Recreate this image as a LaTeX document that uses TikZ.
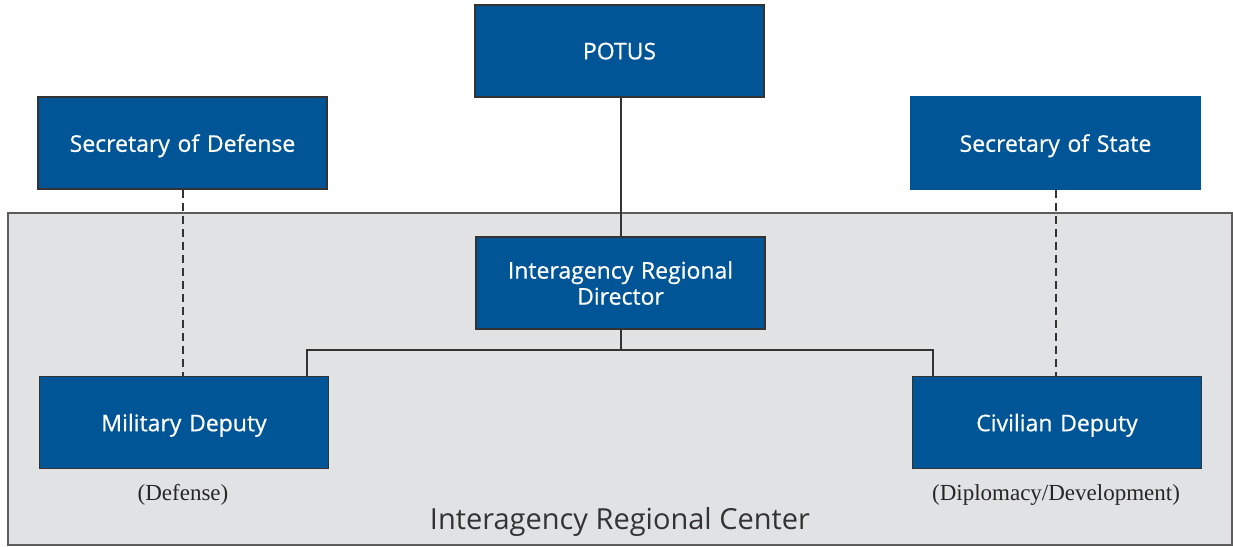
\documentclass[tikz,border=0pt]{standalone}
\usepackage{fontspec}
\setmainfont{Liberation Serif}
\newfontfamily\boxfont[FakeBold=0.6]{Open Sans}
\newfontfamily\centerfont{Open Sans}
\definecolor{navy}{HTML}{005596}
\definecolor{panel}{HTML}{E1E2E4}
\definecolor{edge}{HTML}{333333}
\begin{document}
\begin{tikzpicture}[x=1pt,y=-1pt,
  box/.style={draw=edge, line width=1.2pt, fill=navy, text=white, font=\boxfont\fontsize{23}{27}\selectfont,
    minimum width=289pt, minimum height=92pt, inner sep=0pt, align=center, text width=280pt},
  onebox/.style={box, text depth=0pt},
  solidlink/.style={draw=edge, line width=1.3pt},
  dashlink/.style={draw=edge, line width=1.3pt, dash pattern=on 8pt off 5pt},
  note/.style={font=\fontsize{23}{26}\selectfont, text=black!85}]
\useasboundingbox (0,0) rectangle (1233,546);
\draw[fill=panel, draw=edge!80, line width=1.3pt] (8,213) rectangle (1232,545);
\node[onebox] (potus) at (619.5,51) {POTUS};
\node[onebox] (secdef) at (182.5,143) {Secretary of Defense};
\node[onebox, draw=navy] (secstate) at (1055.5,143) {Secretary of State};
\node[box] (ird) at (620.5,283) {Interagency Regional\\[-1pt]Director};
\node[onebox] (mil) at (184,422.5) {Military Deputy};
\node[onebox] (civ) at (1057,422.5) {Civilian Deputy};
\node[note] (defn) at (183,495) {(Defense)};
\node[note] (dipl) at (1056,495) {(Diplomacy/Development)};
\node[font=\centerfont\fontsize{29}{33}\selectfont, text=black!80] (center) at (620,522) {Interagency Regional Center};
\coordinate (split) at (621,350);
\draw[solidlink] (potus.south -| 621,0) -- (ird.north -| 621,0);
\draw[solidlink] (ird.south -| split) -- (split);
\draw[solidlink] (mil.north -| 307,0) |- (split) -| (civ.north -| 933,0);
\draw[dashlink] (secdef.south -| 183,0) -- (mil.north -| 183,0);
\draw[dashlink] (secstate.south -| 1056,0) -- (civ.north -| 1056,0);
\end{tikzpicture}
\end{document}
